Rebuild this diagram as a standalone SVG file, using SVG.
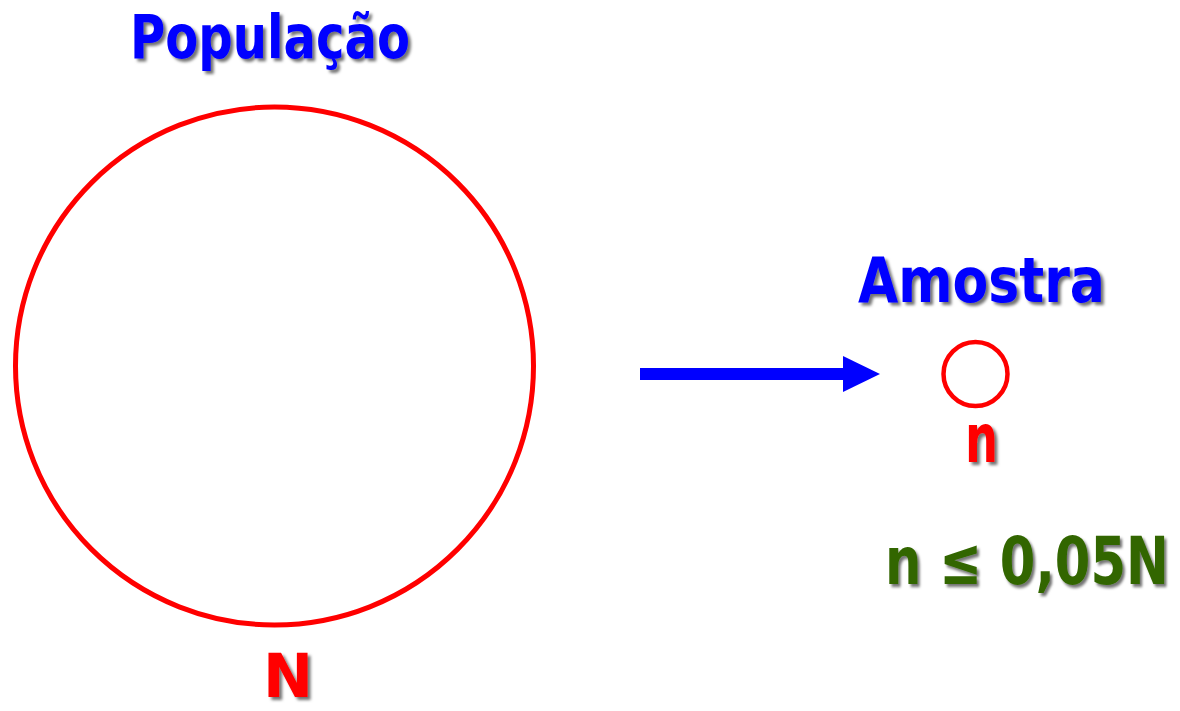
<svg xmlns="http://www.w3.org/2000/svg" width="1180" height="711" viewBox="0 0 1180 711">
<defs>
<filter id="sh" x="-5%" y="-10%" width="115%" height="125%">
<feDropShadow dx="3" dy="3" stdDeviation="1.5" flood-color="#000" flood-opacity="0.55"/>
</filter>
</defs>
<style>
.t{font-family:"Comic Sans MS","DejaVu Sans","Liberation Sans",sans-serif;font-weight:bold;filter:url(#sh)}
.blue{fill:#0000ff}
.red{fill:#ff0000}
.green{fill:#336600}
.circ{fill:none;stroke:#ff0000}
</style>
<rect width="1180" height="711" fill="#ffffff"/>
<g id="populacao">
<text class="t blue" x="130" y="58" font-size="60" textLength="280" lengthAdjust="spacingAndGlyphs">População</text>
<circle class="circ" cx="274.5" cy="366" r="259" stroke-width="5"/>
<text class="t red" x="263" y="697" font-size="60" textLength="50" lengthAdjust="spacingAndGlyphs">N</text>
</g>
<g id="amostra">
<text class="t blue" x="858" y="302" font-size="62" textLength="247" lengthAdjust="spacingAndGlyphs">Amostra</text>
<circle class="circ" cx="975.5" cy="374" r="32" stroke-width="4.5"/>
<text class="t red" x="965" y="462" font-size="68" textLength="33" lengthAdjust="spacingAndGlyphs">n</text>
</g>
<g id="formula">
<text class="t green" transform="translate(885,584) scale(0.775,1)" x="0" y="0" font-size="66">n ≤ 0,05N</text>
</g>
<g id="connectors">
<rect x="640" y="368" width="206" height="12" fill="#0000ff"/>
<polygon points="843,356 880,374 843,392" fill="#0000ff"/>
</g>
</svg>
